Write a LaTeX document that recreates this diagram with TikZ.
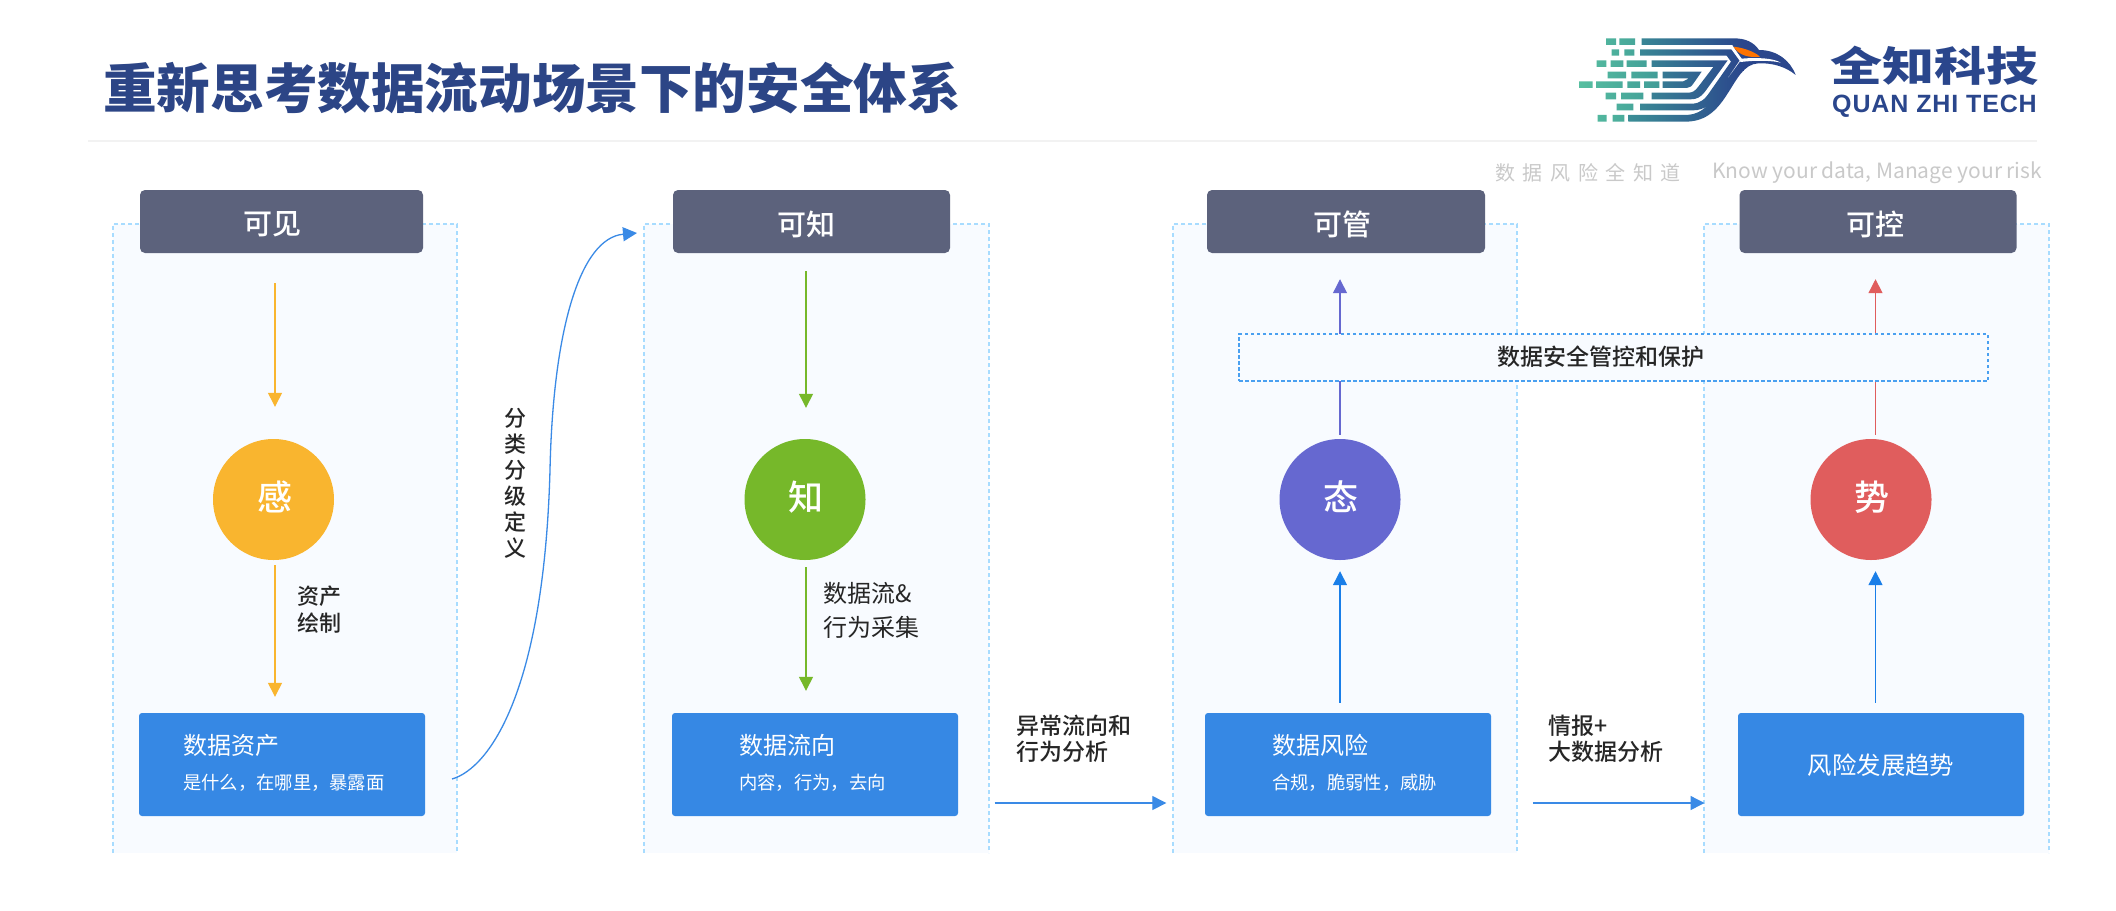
\documentclass[tikz,border=0pt]{standalone}
\usepackage{fontspec}
\setmainfont{Noto Sans CJK SC}
\newfontfamily\med{Noto Sans CJK SC Medium}
\newfontfamily\latinlogo{Liberation Sans}
\usetikzlibrary{arrows.meta,shadings}
\definecolor{titleblue}{HTML}{2C4586}
\definecolor{headgrey}{HTML}{5C627C}
\definecolor{boxblue}{HTML}{3688E4}
\definecolor{panelfill}{HTML}{F8FBFF}
\definecolor{paneldash}{HTML}{A8DCFF}
\definecolor{cyellow}{HTML}{F9B52F}
\definecolor{cgreen}{HTML}{76B82A}
\definecolor{cpurple}{HTML}{6668D0}
\definecolor{cred}{HTML}{E05D5D}
\definecolor{linkblue}{HTML}{3A8AE6}
\definecolor{upblue}{HTML}{1A7EE8}
\definecolor{tagline}{HTML}{C9C9C9}
\definecolor{lbl}{HTML}{262626}
\definecolor{logonavy}{HTML}{2A468C}
\definecolor{brickL}{HTML}{57BFA0}
\definecolor{brickR}{HTML}{3F9A97}
\definecolor{bandL}{HTML}{3B8E96}
\definecolor{banddash}{HTML}{4AA0F0}
\newcommand{\fs}[1]{\fontsize{#1}{#1}\selectfont}
\tikzset{
  headbox/.style={fill=headgrey,rounded corners=5pt,inner sep=0pt,minimum height=63pt},
  bluebox/.style={fill=boxblue,rounded corners=3pt,inner sep=0pt,minimum height=103pt},
  bub/.style={circle,inner sep=0pt,minimum size=121pt},
  bubtxt/.style={inner sep=0pt,text=white,font=\med\fs{35}},
  headtxt/.style={text=white,inner sep=0pt,font=\med\fs{29}},
  bigtxt/.style={text=white,inner sep=0pt,anchor=west,font=\fs{24}},
  subtxt/.style={text=white,inner sep=0pt,anchor=west,font=\fs{18.3}},
  labeltxt/.style={text=lbl,inner sep=0pt,anchor=west},
  panelfillst/.style={fill=panelfill},
  paneledge/.style={draw=paneldash,line width=1.5pt,dash pattern=on 4pt off 3pt},
  conn/.style={line width=1.3pt,-{Triangle[length=14pt,width=14pt]}},
}
\begin{document}
\begin{tikzpicture}[x=1pt,y=-1pt]
\useasboundingbox (0,0) rectangle (2116,910);
\fill[white] (0,0) rectangle (2116,910);
% title
\node[inner sep=0pt,anchor=west,text=titleblue,font=\fs{53.6}\bfseries] (title) at (103,88) {重新思考数据流动场景下的安全体系};
\draw[draw=black!5,line width=1.5pt] (88,141) coordinate (ruleL) -- (2037,141) coordinate (ruleR);
% logo
\begin{scope}[shift={(1570,30)},x=0.3333pt,y=-0.3333pt]
  \begin{scope}
    \clip (108,25) rectangle (138,45) (148,25) rectangle (195,45)
      (125,58) rectangle (147,77) (163,58) rectangle (193,77)
      (80,91) rectangle (109,111) (122,91) rectangle (160,111) (170,91) rectangle (230,111)
      (113,125) rectangle (168,145) (184,125) rectangle (263,145)
      (27,154) rectangle (68,174) (78,154) rectangle (158,174) (172,154) rectangle (210,174) (222,154) rectangle (268,174)
      (107,188) rectangle (138,208) (153,188) rectangle (220,208)
      (140,221) rectangle (190,241)
      (83,255) rectangle (110,275) (128,255) rectangle (163,275);
    \shade[left color=brickL,right color=brickR] (27,0) rectangle (280,300);
  \end{scope}
  \begin{scope}
    \clip (278,125) -- (395,125) -- (372,158) .. controls (365,168) and (360,174) .. (350,174) -- (278,174) -- (278,154) -- (340,154) -- (357,145) -- (278,145) -- cycle
      (245,91) -- (473,91) -- (405,185) .. controls (392,202) and (380,208) .. (362,208) -- (245,208) -- (245,188) -- (355,188) .. controls (368,188) and (375,183) .. (385,170) -- (430,111) -- (245,111) -- cycle
      (210,58) -- (487,58) -- (511,88) -- (445,185) .. controls (425,220) and (405,241) .. (370,241) -- (210,241) -- (210,221) -- (365,221) .. controls (390,221) and (405,208) .. (420,185) -- (483,95) -- (470,77) -- (210,77) -- cycle
      (215,25) -- (490,25) .. controls (525,25) and (550,35) .. (567,60) .. controls (620,60) and (660,90) .. (677,135) .. controls (650,112) and (610,98) .. (565,100) .. controls (520,102) and (500,150) .. (470,195) .. controls (435,250) and (400,275) .. (345,275) -- (175,275) -- (175,255) -- (345,255) .. controls (385,255) and (410,235) .. (435,198) -- (515,88) -- (487,45) -- (215,45) -- cycle;
    \shade[left color=bandL,right color=logonavy] (175,0) rectangle (520,300);
    \fill[logonavy] (519,0) rectangle (700,300);
  \end{scope}
  \fill[white] (487,48) -- (515,86) .. controls (560,82) and (610,84) .. (632,98) .. controls (610,92) and (560,90) .. (512,96) -- (480,52) -- cycle;
  \fill[orange!90!red] (490,50) .. controls (512,52) and (550,62) .. (570,80) .. controls (540,84) and (508,78) .. (490,50) -- cycle;
\end{scope}
\node[inner sep=0pt,text=logonavy,font=\fs{41}\bfseries] (logocn) at (1934.5,65.5) {\scalebox{1.27}[1]{全知科技}};
\node[inner sep=0pt,anchor=west,text=logonavy,font=\latinlogo\fs{25}\bfseries\addfontfeature{LetterSpace=3.5}] (logoen) at (1832,106) {QUAN ZHI TECH};
\node[inner sep=0pt,anchor=west,text=tagline,font=\fs{20}\addfontfeature{LetterSpace=38}] (tagcn) at (1495,173) {数据风险全知道};
\node[inner sep=0pt,anchor=west,text=tagline,font=\fs{21}] (tagen) at (1712,173) {Know your data, Manage your risk};
% panels
\fill[panelfillst] (113,224) rectangle (457,853);
\fill[panelfillst] (644,224) rectangle (989,853);
\fill[panelfillst] (1173,224) rectangle (1517,853);
\fill[panelfillst] (1704,224) rectangle (2049,853);
\draw[paneledge] (113,853) -- (113,224) -- (457,224) -- (457,853);
\draw[paneledge] (644,853) -- (644,224) -- (989,224) -- (989,853);
\draw[paneledge] (1173,853) -- (1173,224) -- (1517,224) -- (1517,853);
\draw[paneledge] (1704,853) -- (1704,224) -- (2049,224) -- (2049,853);
% headers
\node[headbox,minimum width=283pt] (h1) at (281.5,221.5) {};
\node[headbox,minimum width=277pt] (h2) at (811.5,221.5) {};
\node[headbox,minimum width=278pt] (h3) at (1346,221.5) {};
\node[headbox,minimum width=277pt] (h4) at (1878,221.5) {};
\node[headtxt] (ht1) at (272,224) {可见};
\node[headtxt] (ht2) at (806,224) {可知};
\node[headtxt] (ht3) at (1342,224) {可管};
\node[headtxt] (ht4) at (1875,224) {可控};
% circles
\node[bub,fill=cyellow] (c1) at (273.5,499.5) {};
\node[bub,fill=cgreen] (c2) at (805,499.5) {};
\node[bub,fill=cpurple] (c3) at (1340,499.5) {};
\node[bub,fill=cred] (c4) at (1871,499.5) {};
\node[bubtxt] (ct1) at (274.5,497) {感};
\node[bubtxt] (ct2) at (806,497) {知};
\node[bubtxt] (ct3) at (1341,497) {态};
\node[bubtxt] (ct4) at (1872,497) {势};
% blue boxes
\node[bluebox,minimum width=286pt] (b1) at (282,764.5) {};
\node[bluebox,minimum width=286pt] (b2) at (815,764.5) {};
\node[bluebox,minimum width=286pt] (b3) at (1348,764.5) {};
\node[bluebox,minimum width=286pt] (b4) at (1881,764.5) {};
\node[bigtxt] (bt1) at (183,745) {数据资产};
\node[subtxt] (bs1) at (183,783) {是什么，在哪里，暴露面};
\node[bigtxt] (bt2) at (739,745) {数据流向};
\node[subtxt] (bs2) at (739,783) {内容，行为，去向};
\node[bigtxt] (bt3) at (1272,745) {数据风险};
\node[subtxt] (bs3) at (1272,783) {合规，脆弱性，威胁};
\node[text=white,inner sep=0pt,font=\fs{24.4}] (bt4) at (1881,765) {风险发展趋势};
% coordinates for connector alignment
\coordinate (x1dn) at (275,0);
\coordinate (x2dn) at (806,0);
\coordinate (x4up) at (1875.5,0);
\coordinate (ya) at (0,803);
\coordinate (cvs) at (452,779);
\coordinate (cvm) at (550,470);
\coordinate (cve) at (637,233);
% connectors
\draw[conn,cyellow,shorten <=30pt,shorten >=32pt] (h1.south -| x1dn) -- (c1.north -| x1dn);
\draw[conn,cyellow,shorten <=5pt,shorten >=16pt] (c1.south -| x1dn) -- (b1.north -| x1dn);
\draw[conn,cgreen,shorten <=18pt,shorten >=31pt] (h2.south -| x2dn) -- (c2.north -| x2dn);
\draw[conn,cgreen,shorten <=7pt,shorten >=22pt] (c2.south -| x2dn) -- (b2.north -| x2dn);
\draw[conn,cpurple,shorten <=4pt,shorten >=26pt] (c3.north) -- (h3.south -| c3);
\draw[conn,upblue,shorten <=10pt,shorten >=11pt] (b3.north -| c3) -- (c3.south);
\draw[conn,cred,shorten <=4pt,shorten >=26pt] (c4.north -| x4up) -- (h4.south -| x4up);
\draw[conn,upblue,shorten <=10pt,shorten >=11pt] (b4.north -| x4up) -- (c4.south -| x4up);
\draw[conn,linkblue,shorten <=36.5pt,shorten >=38.5pt] (b2.east |- ya) -- (b3.west |- ya);
\draw[conn,linkblue,shorten <=41.6pt,shorten >=33.3pt] (b3.east |- ya) -- (b4.west |- ya);
\draw[conn,linkblue] (cvs) .. controls (490,768) and (544,690) .. (cvm) .. controls (553,330) and (580,238) .. (cve);
% dashed band
\node[fill=panelfill,draw=banddash,line width=1.5pt,dash pattern=on 3.5pt off 2.5pt,inner sep=0pt,minimum width=749pt,minimum height=47pt] (band) at (1613.5,357.5) {};
\node[text=lbl,inner sep=0pt,font=\med\fs{23}] (bandt) at (1600.5,357) {数据安全管控和保护};
% labels
\node[labeltxt,font=\med\fs{22},align=left] (l1) at (297,610) {资产\\[5pt]绘制};
\node[labeltxt,font=\fs{24},align=left] (l2) at (823,610) {数据流\&\\[10pt]行为采集};
\node[labeltxt,font=\med\fs{23},align=left] (l3) at (1016,739) {异常流向和\\[3pt]行为分析};
\node[labeltxt,font=\med\fs{23},align=left] (l4) at (1548,739) {情报+\\[3pt]大数据分析};
\node[text=lbl,inner sep=0pt,align=center,font=\med\fontsize{22}{26}\selectfont] (l5) at (515,483) {分\\类\\分\\级\\定\\义};
\end{tikzpicture}
\end{document}
